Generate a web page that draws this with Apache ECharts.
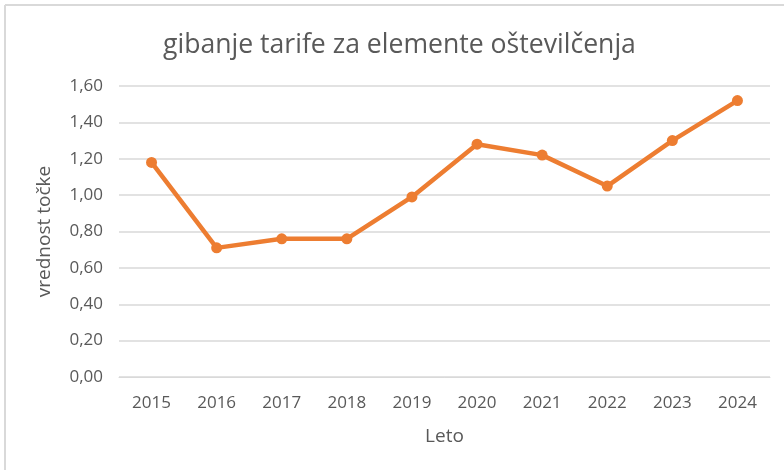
<!DOCTYPE html>
<html>
<head>
<meta charset="utf-8">
<script src="https://cdn.jsdelivr.net/npm/echarts@6/dist/echarts.min.js"></script>
<style>
html,body{margin:0;padding:0;background:#fff;}
#c{width:784px;height:470px;}
</style>
</head>
<body>
<div id="c"></div>
<script>
const titleText = 'gibanje tarife za elemente oštevilčenja';
const xAxisName = 'Leto';
const yAxisName = 'vrednost točke';
const years = ['2015','2016','2017','2018','2019','2020','2021','2022','2023','2024'];
const values = [1.18, 0.71, 0.76, 0.76, 0.99, 1.28, 1.22, 1.05, 1.30, 1.52];

const font = 'Open Sans';
const chart = echarts.init(document.getElementById('c'), null, {renderer:'canvas'});
chart.setOption({
  animation:false,
  backgroundColor:'#fff',
  title:{
    text:titleText, left:158, top:27, padding:5,
    textStyle:{fontFamily:font, fontSize:26.6, fontWeight:'normal', color:'#595959'}
  },
  graphic:[
    {type:'line', shape:{x1:5,y1:5,x2:784,y2:5}, style:{stroke:'#d9d9d9', lineWidth:2}},
    {type:'line', shape:{x1:5,y1:5,x2:5,y2:470}, style:{stroke:'#d9d9d9', lineWidth:2}}
  ],
  grid:{left:119, right:14, top:86, bottom:93},
  xAxis:{
    type:'category', data:years, boundaryGap:true,
    name:xAxisName, nameLocation:'middle', nameGap:50,
    nameTextStyle:{fontFamily:font, fontSize:19, color:'#595959'},
    axisLine:{show:true, lineStyle:{color:'#d9d9d9', width:1}},
    axisTick:{show:false},
    axisLabel:{fontFamily:font, fontSize:17, color:'#595959', margin:18}
  },
  yAxis:{
    type:'value', min:0, max:1.6, interval:0.2,
    name:yAxisName, nameLocation:'middle', nameGap:65,
    nameTextStyle:{fontFamily:font, fontSize:19, color:'#595959'},
    axisLine:{show:false}, axisTick:{show:false},
    splitLine:{lineStyle:{color:'#d9d9d9', width:1.5}},
    axisLabel:{fontFamily:font, fontSize:17, color:'#595959', margin:16,
      formatter:v=>v.toFixed(2).replace('.',',')}
  },
  series:[{
    type:'line', data:values,
    lineStyle:{color:'#ED7D31', width:4.5},
    itemStyle:{color:'#ED7D31'},
    symbol:'circle', symbolSize:11
  }]
});
</script>
</body>
</html>
